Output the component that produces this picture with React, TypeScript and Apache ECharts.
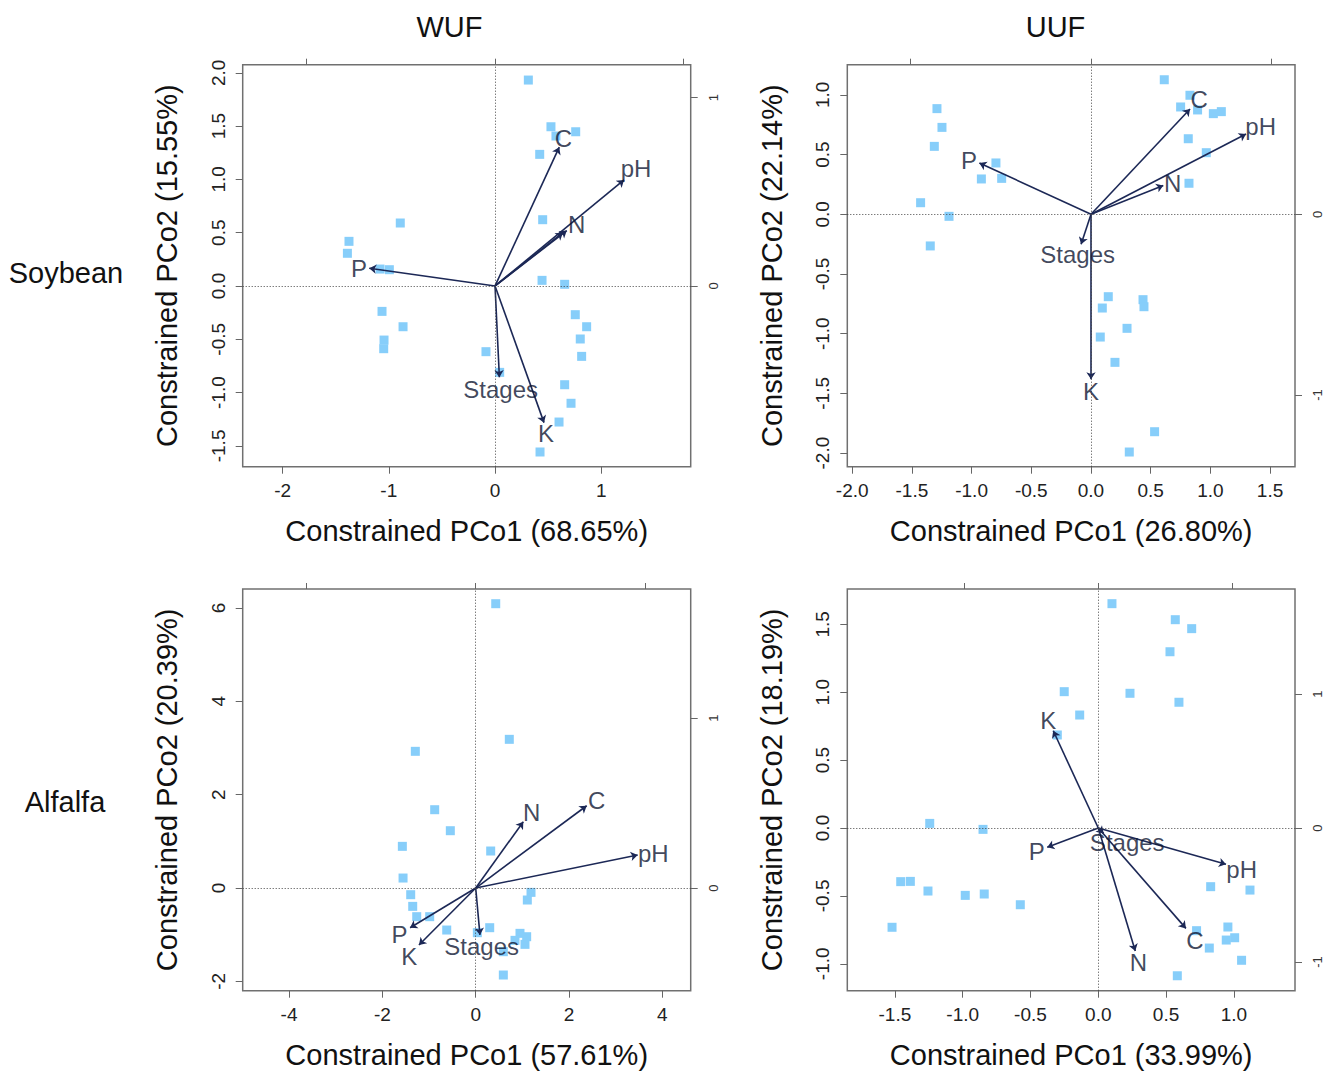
import React, { useEffect, useRef } from 'react';
import * as echarts from 'echarts';

const FONT = '"Liberation Sans", Arial, Helvetica, sans-serif';
const POINT_COLOR = '#87CEFA';
const ARROW_COLOR = '#1c2856';
const LABEL_COLOR = '#0f1733';
const TEXT_COLOR = '#111111';

// ---------- Panel 1 : WUF / Soybean ----------
const wufSoyPoints: [number, number][] = [
  [0.314, 1.932], [0.527, 1.494], [0.76, 1.447], [0.574, 1.407], [0.421, 1.235],
  [-0.892, 0.591], [-1.375, 0.419], [-1.39, 0.307], [-1.083, 0.159], [-0.995, 0.153],
  [0.449, 0.622], [0.443, 0.053], [0.656, 0.016], [-1.064, -0.238], [-0.866, -0.382],
  [-1.045, -0.507], [-1.048, -0.588], [0.756, -0.269], [0.863, -0.382], [0.803, -0.497],
  [0.816, -0.66], [-0.085, -0.616], [0.044, -0.81], [0.656, -0.926], [0.716, -1.1],
  [0.603, -1.276], [0.424, -1.557],
];
const wufSoyArrowNames = ['C', 'pH', 'N', '', 'P', 'Stages', 'K'];
const wufSoyArrowTips: [number, number][] = [
  [0.341, 0.737], [0.685, 0.563], [0.381, 0.294], [0.36, 0.283], [-0.668, 0.094], [0.023, -0.485], [0.26, -0.726],
];
const wufSoyLabelPos: [number, number][] = [
  [0.363, 0.781], [0.749, 0.625], [0.434, 0.324], [0, 0], [-0.722, 0.094], [0.03, -0.549], [0.271, -0.786],
];

// ---------- Panel 2 : UUF / Soybean ----------
const uufSoyPoints: [number, number][] = [
  [0.614, 1.127], [0.829, 0.997], [0.751, 0.899], [0.893, 0.874], [1.025, 0.843],
  [1.092, 0.86], [0.815, 0.633], [0.966, 0.516], [0.821, 0.26], [-1.29, 0.885],
  [-1.248, 0.728], [-1.312, 0.569], [-0.796, 0.43], [-0.918, 0.296], [-0.748, 0.301],
  [-1.427, 0.097], [-1.189, -0.017], [-1.346, -0.265], [0.145, -0.69], [0.095, -0.785],
  [0.436, -0.715], [0.444, -0.774], [0.302, -0.955], [0.078, -1.028], [0.201, -1.24],
  [0.533, -1.821], [0.321, -1.991],
];
const uufSoyArrowNames = ['C', 'pH', 'N', 'P', 'Stages', 'K'];
const uufSoyArrowTips: [number, number][] = [
  [0.548, 0.583], [0.858, 0.444], [0.4, 0.16], [-0.618, 0.284], [-0.055, -0.166], [0, -0.913],
];
const uufSoyLabelPos: [number, number][] = [
  [0.599, 0.633], [0.939, 0.485], [0.452, 0.168], [-0.675, 0.3], [-0.074, -0.225], [0, -0.982],
];

// ---------- Panel 3 : WUF / Alfalfa ----------
const wufAlfPoints: [number, number][] = [
  [0.429, 6.092], [0.72, 3.186], [-1.294, 2.929], [-0.879, 1.678], [-0.544, 1.228],
  [-1.572, 0.893], [0.321, 0.793], [-1.557, 0.214], [-1.393, -0.143], [-1.35, -0.393],
  [-1.264, -0.614], [-0.986, -0.614], [-0.621, -0.9], [1.185, -0.093], [1.106, -0.257],
  [0.3, -0.85], [0.035, -0.957], [0.949, -0.971], [1.092, -1.043], [1.056, -1.207],
  [0.842, -1.121], [0.592, -1.364], [0.592, -1.864],
];
const wufAlfArrowNames = ['N', 'C', 'pH', 'P', 'K', 'Stages'];
const wufAlfArrowTips: [number, number][] = [
  [0.28, 0.39], [0.653, 0.484], [0.953, 0.194], [-0.386, -0.234], [-0.334, -0.335], [0.025, -0.276],
];
const wufAlfLabelPos: [number, number][] = [
  [0.329, 0.443], [0.712, 0.514], [1.045, 0.204], [-0.449, -0.276], [-0.391, -0.404], [0.035, -0.345],
];

// ---------- Panel 4 : UUF / Alfalfa ----------
const uufAlfPoints: [number, number][] = [
  [0.101, 1.652], [0.568, 1.534], [0.689, 1.468], [0.529, 1.298], [-0.251, 1.004],
  [0.234, 0.992], [0.595, 0.926], [-0.137, 0.832], [-0.302, 0.685], [-1.243, 0.034],
  [-0.85, -0.01], [-1.457, -0.395], [-1.386, -0.393], [-1.256, -0.464], [-0.981, -0.496],
  [-0.841, -0.486], [-0.575, -0.565], [-1.521, -0.731], [0.829, -0.432], [1.119, -0.457],
  [0.956, -0.729], [1.006, -0.808], [0.944, -0.825], [0.725, -0.756], [0.819, -0.884],
  [1.057, -0.974], [0.583, -1.088],
];
const uufAlfArrowNames = ['K', 'P', 'pH', 'C', 'N', 'Stages'];
const uufAlfArrowTips: [number, number][] = [
  [-0.336, 0.726], [-0.381, -0.144], [0.953, -0.271], [0.654, -0.749], [0.276, -0.918], [0.04, -0.04],
];
const uufAlfLabelPos: [number, number][] = [
  [-0.373, 0.799], [-0.46, -0.177], [1.07, -0.306], [0.722, -0.836], [0.299, -1.005], [0.216, -0.107],
];

// ---------- tick values ----------
const p1XTicks = [-2, -1, 0, 1];
const p1YTicks = [-1.5, -1, -0.5, 0, 0.5, 1, 1.5, 2];
const p2XTicks = [-2, -1.5, -1, -0.5, 0, 0.5, 1, 1.5];
const p2YTicks = [-2, -1.5, -1, -0.5, 0, 0.5, 1];
const p3XTicks = [-4, -2, 0, 2, 4];
const p3YTicks = [-2, 0, 2, 4, 6];
const p4XTicks = [-1.5, -1, -0.5, 0, 0.5, 1];
const p4YTicks = [-1, -0.5, 0, 0.5, 1, 1.5];

const columnTitles = ['WUF', 'UUF'];
const rowTitles = ['Soybean', 'Alfalfa'];

type Panel = {
  points: [number, number][];
  names: string[];
  tips: [number, number][];
  labels: [number, number][];
  xRange: [number, number];
  yRange: [number, number];
  axRange: [number, number];
  ayRange: [number, number];
  xTicks: number[];
  yTicks: number[];
  xDec: number;
  yDec: number;
  topTicks: number[];
  rightTicks: number[];
  xName: string;
  yName: string;
  box: [number, number, number, number];
};

const panels: Panel[] = [
  {
    points: wufSoyPoints, names: wufSoyArrowNames, tips: wufSoyArrowTips, labels: wufSoyLabelPos,
    xRange: [-2.376, 1.843], yRange: [-1.695, 2.076], axRange: [-1.34, 1.039], ayRange: [-0.96, 1.175],
    xTicks: p1XTicks, yTicks: p1YTicks, xDec: 0, yDec: 1, topTicks: [-1, 0, 1], rightTicks: [0, 1],
    xName: 'Constrained PCo1 (68.65%)', yName: 'Constrained PCo2 (15.55%)',
    box: [242.7, 64.7, 448, 402],
  },
  {
    points: uufSoyPoints, names: uufSoyArrowNames, tips: uufSoyArrowTips, labels: uufSoyLabelPos,
    xRange: [-2.041, 1.709], yRange: [-2.114, 1.253], axRange: [-1.349, 1.129], ayRange: [-1.397, 0.828],
    xTicks: p2XTicks, yTicks: p2YTicks, xDec: 1, yDec: 1, topTicks: [-1, 0, 1], rightTicks: [-1, 0],
    xName: 'Constrained PCo1 (26.80%)', yName: 'Constrained PCo2 (22.14%)',
    box: [847.3, 64.7, 447.7, 402],
  },
  {
    points: wufAlfPoints, names: wufAlfArrowNames, tips: wufAlfArrowTips, labels: wufAlfLabelPos,
    xRange: [-4.993, 4.607], yRange: [-2.2, 6.407], axRange: [-1.371, 1.265], ayRange: [-0.604, 1.759],
    xTicks: p3XTicks, yTicks: p3YTicks, xDec: 0, yDec: 0, topTicks: [-1, 0, 1], rightTicks: [0, 1],
    xName: 'Constrained PCo1 (57.61%)', yName: 'Constrained PCo2 (20.39%)',
    box: [242.7, 589, 448, 401.7],
  },
  {
    points: uufAlfPoints, names: uufAlfArrowNames, tips: uufAlfArrowTips, labels: uufAlfLabelPos,
    xRange: [-1.851, 1.451], yRange: [-1.198, 1.76], axRange: [-1.873, 1.468], ayRange: [-1.214, 1.784],
    xTicks: p4XTicks, yTicks: p4YTicks, xDec: 1, yDec: 1, topTicks: [-1, 0, 1], rightTicks: [-1, 0, 1],
    xName: 'Constrained PCo1 (33.99%)', yName: 'Constrained PCo2 (18.19%)',
    box: [847.3, 589, 447.7, 401.7],
  },
];

function buildOption() {
  const grid: any[] = [];
  const xAxis: any[] = [];
  const yAxis: any[] = [];
  const series: any[] = [];
  const tickLine = { color: '#666', width: 1 };

  panels.forEach((p, i) => {
    grid.push({
      left: p.box[0], top: p.box[1], width: p.box[2], height: p.box[3],
      show: true, borderColor: '#707070', borderWidth: 1.5, backgroundColor: 'transparent',
    });
    xAxis.push({
      type: 'value', gridIndex: i, position: 'bottom', min: p.xRange[0], max: p.xRange[1],
      name: p.xName, nameLocation: 'middle', nameGap: 50,
      nameTextStyle: { fontSize: 29, color: TEXT_COLOR, fontFamily: FONT },
      axisLine: { show: false, onZero: false },
      axisTick: { show: true, length: 7, customValues: p.xTicks, lineStyle: tickLine },
      axisLabel: {
        show: true, customValues: p.xTicks, margin: 14, fontSize: 19, color: '#222', fontFamily: FONT,
        formatter: (v: number) => Number(v).toFixed(p.xDec),
      },
      splitLine: { show: false },
    });
    xAxis.push({
      type: 'value', gridIndex: i, position: 'top', min: p.axRange[0], max: p.axRange[1],
      axisLine: { show: false, onZero: false },
      axisTick: { show: true, length: 6, customValues: p.topTicks, lineStyle: tickLine },
      axisLabel: { show: false },
      splitLine: { show: false },
    });
    yAxis.push({
      type: 'value', gridIndex: i, position: 'left', min: p.yRange[0], max: p.yRange[1],
      name: p.yName, nameLocation: 'middle', nameGap: 61,
      nameTextStyle: { fontSize: 29, color: TEXT_COLOR, fontFamily: FONT },
      axisLine: { show: false, onZero: false },
      axisTick: { show: true, length: 7, customValues: p.yTicks, lineStyle: tickLine },
      axisLabel: {
        show: true, customValues: p.yTicks, margin: 15, rotate: 90, fontSize: 19, color: '#222', fontFamily: FONT,
        formatter: (v: number) => Number(v).toFixed(p.yDec),
      },
      splitLine: { show: false },
    });
    yAxis.push({
      type: 'value', gridIndex: i, position: 'right', min: p.ayRange[0], max: p.ayRange[1],
      axisLine: { show: false, onZero: false },
      axisTick: { show: true, length: 7, customValues: p.rightTicks, lineStyle: tickLine },
      axisLabel: {
        show: true, customValues: p.rightTicks, margin: 16, rotate: 90, fontSize: 13, color: '#333', fontFamily: FONT,
        formatter: (v: number) => Number(v).toFixed(0),
      },
      splitLine: { show: false },
    });

    series.push({
      type: 'scatter', xAxisIndex: 2 * i, yAxisIndex: 2 * i,
      symbol: 'rect', symbolSize: 9, itemStyle: { color: POINT_COLOR, opacity: 1 },
      data: p.points, silent: true, z: 2,
      markLine: {
        silent: true, symbol: ['none', 'none'], animation: false,
        label: { show: false },
        lineStyle: { color: '#444', width: 1, type: [1, 2] },
        data: [{ xAxis: 0 }, { yAxis: 0 }],
      },
    });
    series.push({
      type: 'lines', coordinateSystem: 'cartesian2d', xAxisIndex: 2 * i + 1, yAxisIndex: 2 * i + 1,
      symbol: ['none', 'arrow'], symbolSize: 7, silent: true, z: 4,
      lineStyle: { color: ARROW_COLOR, width: 1.6, opacity: 1 },
      data: p.tips.map((t) => ({ coords: [[0, 0], t] })),
    });
    series.push({
      type: 'scatter', xAxisIndex: 2 * i + 1, yAxisIndex: 2 * i + 1,
      symbolSize: 1, itemStyle: { color: 'rgba(0,0,0,0)' }, silent: true, z: 5,
      label: {
        show: true, position: 'inside', formatter: '{b}', fontSize: 24,
        color: LABEL_COLOR, fontFamily: FONT, textBorderWidth: 0, textBorderColor: 'transparent',
      },
      data: p.names
        .map((n, k) => ({ name: n, value: p.labels[k] }))
        .filter((d) => d.name !== ''),
    });
  });

  const titleStyle = { fontSize: 29, fill: TEXT_COLOR, fontFamily: FONT, textAlign: 'center', textVerticalAlign: 'middle' };
  const graphic = [
    { type: 'text', x: 449.5, y: 26.5, style: { ...titleStyle, text: columnTitles[0] } },
    { type: 'text', x: 1055.5, y: 26.5, style: { ...titleStyle, text: columnTitles[1] } },
    { type: 'text', x: 66, y: 273, style: { ...titleStyle, text: rowTitles[0] } },
    { type: 'text', x: 65, y: 801.5, style: { ...titleStyle, text: rowTitles[1] } },
  ];

  return {
    animation: false,
    backgroundColor: '#ffffff',
    textStyle: { fontFamily: FONT },
    grid, xAxis, yAxis, series, graphic,
  };
}

export default function App() {
  const ref = useRef<HTMLDivElement>(null);
  useEffect(() => {
    if (!ref.current) return;
    const chart = echarts.init(ref.current, undefined, { renderer: 'svg' });
    chart.setOption(buildOption() as any);
    return () => chart.dispose();
  }, []);
  return (
    <div
      ref={ref}
      style={{ position: 'absolute', left: 0, top: 0, width: 1336, height: 1073, background: '#fff' }}
    />
  );
}
